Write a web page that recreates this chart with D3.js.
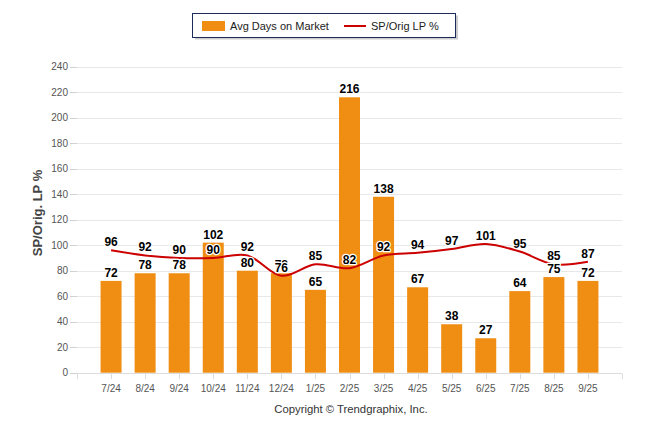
<!DOCTYPE html>
<html>
<head>
<meta charset="utf-8">
<script src="https://cdn.jsdelivr.net/npm/d3@7"></script>
<style>
html,body{margin:0;padding:0;background:#fff;}
svg{display:block;font-family:"Liberation Sans",Arial,sans-serif;}
</style>
</head>
<body>
<svg id="chart" width="646" height="434"></svg>
<script>
const months = ["7/24","8/24","9/24","10/24","11/24","12/24","1/25","2/25","3/25","4/25","5/25","6/25","7/25","8/25","9/25"];
const avgDays = [72,78,78,102,80,78,65,216,138,67,38,27,64,75,72];
const spOrig = [96,92,90,90,92,76,85,82,92,94,97,101,95,85,87];
const yTicks = [0,20,40,60,80,100,120,140,160,180,200,220,240];

(function () {
const svg = d3.select("#chart");
const pLeft = 77, pRight = 622, pTop = 66.7, pBottom = 372.7;

const x = d3.scalePoint().domain(months).range([pLeft, pRight]).padding(1);
const y = d3.scaleLinear().domain([0, 240]).range([pBottom, pTop]);
const barW = 21;

// gridlines
svg.append("g").selectAll("line").data(yTicks.filter(d => d > 0)).join("line")
  .attr("x1", pLeft).attr("x2", pRight)
  .attr("y1", d => Math.round(y(d)) + 0.5).attr("y2", d => Math.round(y(d)) + 0.5)
  .attr("stroke", "#e8e8e8").attr("stroke-width", 1);

// y axis ticks + labels
const yg = svg.append("g");
yg.selectAll("line").data(yTicks).join("line")
  .attr("x1", 70).attr("x2", pLeft)
  .attr("y1", d => Math.round(y(d)) + 0.5).attr("y2", d => Math.round(y(d)) + 0.5)
  .attr("stroke", "#d0d0d0");
yg.selectAll("text").data(yTicks).join("text")
  .attr("x", 68).attr("y", d => y(d)).attr("dy", "0.35em")
  .attr("text-anchor", "end").attr("font-size", "10px").attr("fill", "#555")
  .text(d => d);

// y axis title
svg.append("text")
  .attr("transform", "translate(42,213) rotate(-90)")
  .attr("text-anchor", "middle").attr("font-size", "13px").attr("font-weight", "bold")
  .attr("fill", "#444").text("SP/Orig. LP %");

// x axis line
svg.append("line").attr("x1", pLeft).attr("x2", pRight)
  .attr("y1", Math.round(pBottom) + 0.5).attr("y2", Math.round(pBottom) + 0.5)
  .attr("stroke", "#dcdcdc");
const step = x.step();
const xTickPos = d3.range(0, months.length + 2).map(k => pLeft + k * step);
svg.append("g").selectAll("line").data(xTickPos).join("line")
  .attr("x1", d => Math.round(d) + 0.5).attr("x2", d => Math.round(d) + 0.5)
  .attr("y1", Math.round(pBottom) + 0.5).attr("y2", Math.round(pBottom) + 6)
  .attr("stroke", "#dcdcdc");
svg.append("g").selectAll("text").data(months).join("text")
  .attr("x", d => x(d)).attr("y", 388).attr("dy", "0.35em")
  .attr("text-anchor", "middle").attr("font-size", "10px").attr("fill", "#555")
  .text(d => d);

// bars
svg.append("g").selectAll("rect").data(months).join("rect")
  .attr("x", d => x(d) - barW / 2)
  .attr("width", barW)
  .attr("y", (d, i) => y(avgDays[i]))
  .attr("height", (d, i) => pBottom - y(avgDays[i]))
  .attr("fill", "#F08E14");

// line
const line = d3.line()
  .x((d, i) => x(months[i]))
  .y(d => y(d))
  .curve(d3.curveCatmullRom.alpha(0.5));
svg.append("path").datum(spOrig).attr("d", line)
  .attr("fill", "none").attr("stroke", "#CC0000").attr("stroke-width", 2);

// labels
function labels(vals) {
  svg.append("g").selectAll("text").data(vals).join("text")
    .attr("x", (d, i) => x(months[i]))
    .attr("y", d => y(d) - 4)
    .attr("text-anchor", "middle").attr("font-size", "12px").attr("font-weight", "bold")
    .attr("fill", "#000").attr("stroke", "#fff").attr("stroke-width", 2.5)
    .attr("stroke-linejoin", "round").attr("paint-order", "stroke")
    .text(d => d);
}
labels(avgDays);
labels(spOrig);

// legend
const lg = svg.append("g");
lg.append("rect").attr("x", 195).attr("y", 15.5).attr("width", 263).attr("height", 24)
  .attr("fill", "#aaa").attr("opacity", 0.6);
lg.append("rect").attr("x", 192.5).attr("y", 13.5).attr("width", 263).attr("height", 24)
  .attr("fill", "#fff").attr("stroke", "#1c2b5a").attr("stroke-width", 1);
lg.append("rect").attr("x", 202).attr("y", 21).attr("width", 23).attr("height", 10).attr("fill", "#F08E14");
lg.append("text").attr("x", 230).attr("y", 26).attr("dy", "0.35em").attr("font-size", "11px")
  .attr("fill", "#222").text("Avg Days on Market");
lg.append("line").attr("x1", 344).attr("x2", 366).attr("y1", 26).attr("y2", 26)
  .attr("stroke", "#CC0000").attr("stroke-width", 2);
lg.append("text").attr("x", 371).attr("y", 26).attr("dy", "0.35em").attr("font-size", "11px")
  .attr("fill", "#222").text("SP/Orig LP %");

// copyright
svg.append("text").attr("x", 351).attr("y", 409).attr("dy", "0.35em")
  .attr("text-anchor", "middle").attr("font-size", "11.3px").attr("fill", "#333")
  .text("Copyright © Trendgraphix, Inc.");
})();
</script>
</body>
</html>
